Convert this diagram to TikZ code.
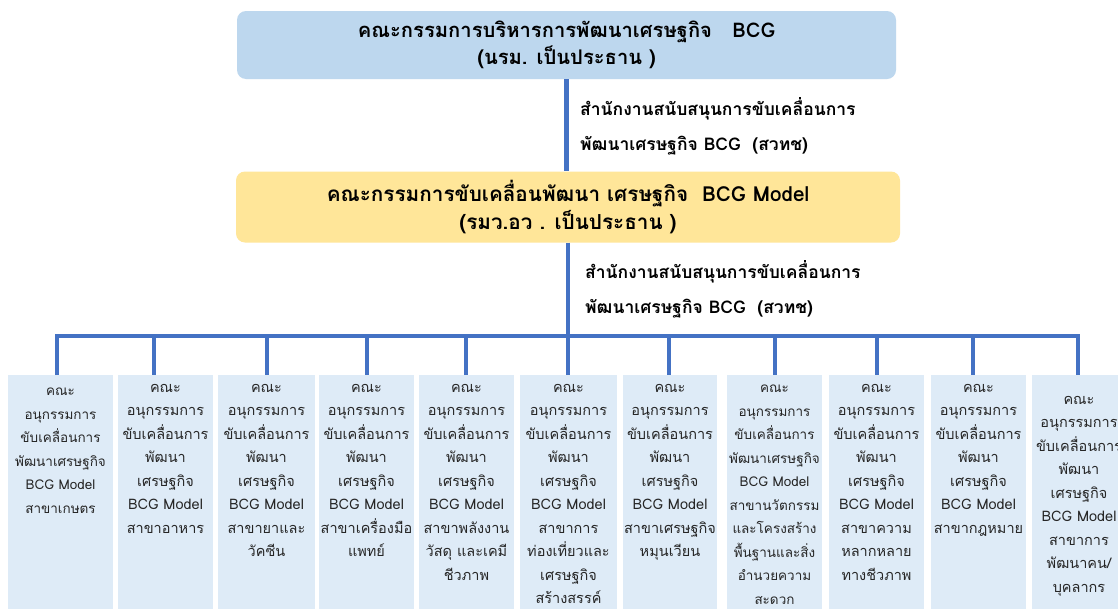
\documentclass[tikz,border=0pt]{standalone}
\usepackage{fontspec}
\setmainfont[Script=Thai]{Loma}
\definecolor{topblue}{HTML}{BDD7EE}
\definecolor{midyellow}{HTML}{FFE699}
\definecolor{subblue}{HTML}{DEEBF7}
\definecolor{linkblue}{HTML}{4472C4}
\definecolor{subtxt}{HTML}{262626}
\begin{document}
\begin{tikzpicture}[x=1pt,y=-1pt,
  bigbox/.style={rounded corners=9pt, inner sep=0pt, align=center},
  subbox/.style={fill=subblue, anchor=north, minimum height=245pt, inner sep=0pt},
  subtext/.style={anchor=north, align=center, inner sep=0pt, text=subtxt,
    font=\fontsize{14.5}{23.5}\selectfont},
  smalltext/.style={subtext, font=\fontsize{13.5}{23.5}\selectfont},
  officetext/.style={anchor=west, align=left, inner sep=0pt,
    font=\bfseries\fontsize{17.5}{35}\selectfont},
  link/.style={draw=linkblue, line width=4.5pt}
]
\clip (0,0) rectangle (1118,608);
\fill[white] (0,0) rectangle (1118,608);

% top boxes
\node[bigbox, fill=topblue, minimum width=659pt, minimum height=68pt,
  font=\bfseries\fontsize{20.2}{27}\selectfont] (top) at (566.5,45)
  {คณะกรรมการบริหารการพัฒนาเศรษฐกิจ~~~BCG\\(นรม. เป็นประธาน )};
\node[bigbox, fill=midyellow, minimum width=664pt, minimum height=71pt,
  font=\bfseries\fontsize{20.7}{28}\selectfont] (mid) at (568,207)
  {คณะกรรมการขับเคลื่อนพัฒนา เศรษฐกิจ~ BCG Model\\(รมว.อว . เป็นประธาน )};

\node[officetext] (off1) at (580,126) {สำนักงานสนับสนุนการขับเคลื่อนการ\\พัฒนาเศรษฐกิจ BCG~ (สวทช)};
\node[officetext] (off2) at (585,289) {สำนักงานสนับสนุนการขับเคลื่อนการ\\พัฒนาเศรษฐกิจ BCG~ (สวทช)};

% sub boxes
\node[subbox, minimum width=105pt] (b1) at (60.5,375) {};
\node[subbox, minimum width=95pt] (b2) at (165.5,375) {};
\node[subbox, minimum width=97pt] (b3) at (266.5,375) {};
\node[subbox, minimum width=95pt] (b4) at (366.5,375) {};
\node[subbox, minimum width=95pt] (b5) at (466.5,375) {};
\node[subbox, minimum width=97pt] (b6) at (568.5,375) {};
\node[subbox, minimum width=94pt] (b7) at (670,375) {};
\node[subbox, minimum width=95pt] (b8) at (774.5,375) {};
\node[subbox, minimum width=95pt] (b9) at (876.5,375) {};
\node[subbox, minimum width=95pt] (b10) at (978.5,375) {};
\node[subbox, minimum width=95pt] (b11) at (1079,375) {};

\node[smalltext] (t1) at (60.5,388) {คณะ\\อนุกรรมการ\\ขับเคลื่อนการ\\พัฒนาเศรษฐกิจ\\BCG Model\\สาขาเกษตร};
\node[subtext] (t2) at (165.5,384) {คณะ\\อนุกรรมการ\\ขับเคลื่อนการ\\พัฒนา\\เศรษฐกิจ\\BCG Model\\สาขาอาหาร};
\node[subtext] (t3) at (266.5,384) {คณะ\\อนุกรรมการ\\ขับเคลื่อนการ\\พัฒนา\\เศรษฐกิจ\\BCG Model\\สาขายาและ\\วัคซีน};
\node[subtext] (t4) at (366.5,384) {คณะ\\อนุกรรมการ\\ขับเคลื่อนการ\\พัฒนา\\เศรษฐกิจ\\BCG Model\\สาขาเครื่องมือ\\แพทย์};
\node[subtext] (t5) at (466.5,384) {คณะ\\อนุกรรมการ\\ขับเคลื่อนการ\\พัฒนา\\เศรษฐกิจ\\BCG Model\\สาขาพลังงาน\\วัสดุ และเคมี\\ชีวภาพ};
\node[subtext] (t6) at (568.5,384) {คณะ\\อนุกรรมการ\\ขับเคลื่อนการ\\พัฒนา\\เศรษฐกิจ\\BCG Model\\สาขาการ\\ท่องเที่ยวและ\\เศรษฐกิจ\\สร้างสรรค์};
\node[subtext] (t7) at (670,384) {คณะ\\อนุกรรมการ\\ขับเคลื่อนการ\\พัฒนา\\เศรษฐกิจ\\BCG Model\\สาขาเศรษฐกิจ\\หมุนเวียน};
\node[smalltext] (t8) at (774.5,385) {คณะ\\อนุกรรมการ\\ขับเคลื่อนการ\\พัฒนาเศรษฐกิจ\\BCG Model\\สาขานวัตกรรม\\และโครงสร้าง\\พื้นฐานและสิ่ง\\อำนวยความ\\สะดวก};
\node[subtext] (t9) at (876.5,384) {คณะ\\อนุกรรมการ\\ขับเคลื่อนการ\\พัฒนา\\เศรษฐกิจ\\BCG Model\\สาขาความ\\หลากหลาย\\ทางชีวภาพ};
\node[subtext] (t10) at (978.5,384) {คณะ\\อนุกรรมการ\\ขับเคลื่อนการ\\พัฒนา\\เศรษฐกิจ\\BCG Model\\สาขากฎหมาย};
\node[subtext] (t11) at (1079,396) {คณะ\\อนุกรรมการ\\ขับเคลื่อนการ\\พัฒนา\\เศรษฐกิจ\\BCG Model\\สาขาการ\\พัฒนาคน/\\บุคลากร};

% connectors
\coordinate (d1) at (57,336);
\coordinate (d2) at (154,336);
\coordinate (d3) at (267,336);
\coordinate (d4) at (367,336);
\coordinate (d5) at (466,336);
\coordinate (d6) at (568,336);
\coordinate (d7) at (669,336);
\coordinate (d8) at (775,336);
\coordinate (d9) at (877,336);
\coordinate (d10) at (973,336);
\coordinate (d11) at (1078,336);

\draw[link] (top.south) -- (top.south |- mid.north);
\draw[link] (mid.south) -- (mid.south |- d6);
\draw[link] (d1 |- b1.north) -- (d1) -- (d11) -- (d11 |- b11.north);
\foreach \i in {2,...,10} {
  \draw[link] (d\i) -- (d\i |- b\i.north);
}
\end{tikzpicture}
\end{document}
